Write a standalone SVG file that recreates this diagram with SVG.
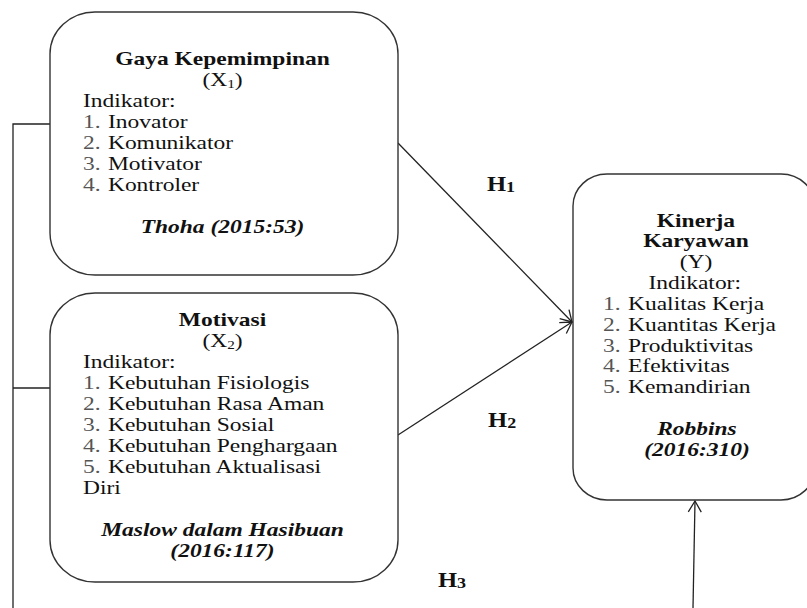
<svg xmlns="http://www.w3.org/2000/svg" width="807" height="608" viewBox="0 0 807 608">
<style>
.box{fill:#fff;stroke:#333;stroke-width:1.4}
.t{font-family:"Liberation Serif","Times New Roman",serif;font-size:18.5px;fill:#111}
.b{font-weight:bold}
.bi{font-weight:bold;font-style:italic}
.c{text-anchor:middle}
.n{fill:#555}
.sub{font-size:12px}
.h{font-size:20.5px}
.hs{font-size:15px}
.ln{fill:none;stroke:#222;stroke-width:1.3}
</style>
<defs>
<marker id="arr" markerUnits="userSpaceOnUse" markerWidth="16" markerHeight="16" refX="13" refY="8" orient="auto">
<path d="M2,1.5 L13,8 L2,14.5" fill="none" stroke="#222" stroke-width="1.3"/>
</marker>
</defs>
<rect width="807" height="608" fill="#fff"/>
<g id="connectors">
<path class="ln" d="M13,608 V124 H50"/>
<path class="ln" d="M13,388 H50"/>
<line class="ln" x1="398" y1="143" x2="572" y2="322" marker-end="url(#arr)"/>
<line class="ln" x1="398" y1="435" x2="572" y2="322" marker-end="url(#arr)"/>
<line class="ln" x1="693" y1="608" x2="695" y2="501" marker-end="url(#arr)"/>
<g transform="matrix(1.2,0,0,1,0,0)">
<text class="t b h" x="405.8" y="191">H<tspan class="hs" dy="1">1</tspan></text>
<text class="t b h" x="406.7" y="427">H<tspan class="hs" dy="1">2</tspan></text>
<text class="t b h" x="365" y="587">H<tspan class="hs" dy="1">3</tspan></text>
</g>
</g>
<g id="x1">
<rect class="box" x="50" y="12" width="348" height="263" rx="45" ry="42"/>
<g transform="matrix(1.27,0,0,1,0,0)">
<text class="t b c" x="175.2" y="65">Gaya Kepemimpinan</text>
<text class="t c" x="175.2" y="86">(X<tspan class="sub" dy="2">1</tspan><tspan dy="-2">)</tspan></text>
<text class="t" x="65.4" y="107">Indikator:</text>
<text class="t n" x="65.4" y="128">1.</text><text class="t" x="85" y="128">Inovator</text>
<text class="t n" x="65.4" y="149">2.</text><text class="t" x="85" y="149">Komunikator</text>
<text class="t n" x="65.4" y="170">3.</text><text class="t" x="85" y="170">Motivator</text>
<text class="t n" x="65.4" y="191">4.</text><text class="t" x="85" y="191">Kontroler</text>
<text class="t bi c" x="175.2" y="233">Thoha (2015:53)</text>
</g>
</g>
<g id="x2">
<rect class="box" x="50" y="293" width="348" height="289" rx="45" ry="42"/>
<g transform="matrix(1.27,0,0,1,0,0)">
<text class="t b c" x="175.2" y="326">Motivasi</text>
<text class="t c" x="175.2" y="347">(X<tspan class="sub" dy="2">2</tspan><tspan dy="-2">)</tspan></text>
<text class="t" x="65.4" y="368">Indikator:</text>
<text class="t n" x="65.4" y="389">1.</text><text class="t" x="85" y="389">Kebutuhan Fisiologis</text>
<text class="t n" x="65.4" y="410">2.</text><text class="t" x="85" y="410">Kebutuhan Rasa Aman</text>
<text class="t n" x="65.4" y="431">3.</text><text class="t" x="85" y="431">Kebutuhan Sosial</text>
<text class="t n" x="65.4" y="452">4.</text><text class="t" x="85" y="452">Kebutuhan Penghargaan</text>
<text class="t n" x="65.4" y="473">5.</text><text class="t" x="85" y="473">Kebutuhan Aktualisasi</text>
<text class="t" x="65.4" y="494">Diri</text>
<text class="t bi c" x="175.2" y="536">Maslow dalam Hasibuan</text>
<text class="t bi c" x="175.2" y="557">(2016:117)</text>
</g>
</g>
<g id="y">
<rect class="box" x="573" y="174" width="242" height="326" rx="34" ry="32"/>
<g transform="matrix(1.27,0,0,1,0,0)">
<text class="t b c" x="548" y="227">Kinerja</text>
<text class="t b c" x="548" y="247">Karyawan</text>
<text class="t c" x="548" y="268">(Y)</text>
<text class="t c" x="547" y="289">Indikator:</text>
<text class="t n" x="474.8" y="310">1.</text><text class="t" x="494.5" y="310">Kualitas Kerja</text>
<text class="t n" x="474.8" y="331">2.</text><text class="t" x="494.5" y="331">Kuantitas Kerja</text>
<text class="t n" x="474.8" y="352">3.</text><text class="t" x="494.5" y="352">Produktivitas</text>
<text class="t n" x="474.8" y="372">4.</text><text class="t" x="494.5" y="372">Efektivitas</text>
<text class="t n" x="474.8" y="393">5.</text><text class="t" x="494.5" y="393">Kemandirian</text>
<text class="t bi c" x="548.8" y="435">Robbins</text>
<text class="t bi c" x="548.8" y="456">(2016:310)</text>
</g>
</g>
</svg>
